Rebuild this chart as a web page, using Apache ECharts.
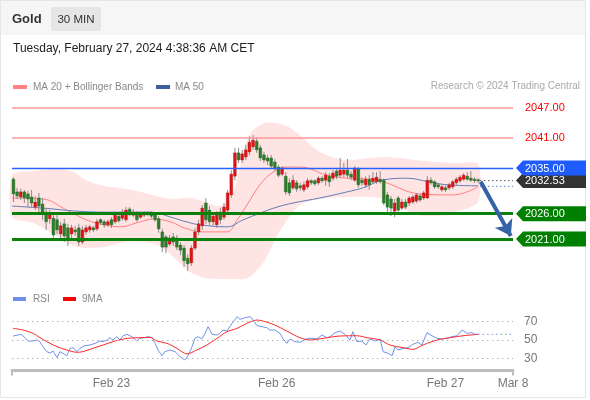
<!DOCTYPE html>
<html><head><meta charset="utf-8">
<script src="https://cdn.jsdelivr.net/npm/echarts@6/dist/echarts.min.js"></script>
<style>html,body{margin:0;padding:0;background:#fff}#c{width:590px;height:400px}</style>
</head><body><div id="c"></div>
<script>
// ---- 30-min candles (index 0 = Feb 22 10:30 CET) ----
const candleOpen = [2032.8,2030.3,2029.3,2030.3,2029.9,2029.3,2027.3,2029.1,2027.9,2026.3,
2025.0,2025.1,2024.8,2022.0,2024.0,2023.2,2022.0,2022.8,2023.2,2020.4,
2022.4,2022.8,2023.2,2023.0,2024.8,2024.4,2023.8,2024.8,2024.4,2025.5,
2025.1,2024.8,2026.9,2025.7,2026.1,2025.3,2025.7,2026.1,2026.1,2025.9,
2025.0,2022.4,2021.4,2020.0,2021.4,2021.2,2019.8,2019.2,2017.2,2016.3,
2019.2,2022.4,2023.6,2028.1,2026.7,2024.4,2023.8,2026.3,2025.3,2026.7,
2029.7,2033.4,2038.0,2036.6,2037.2,2038.2,2039.2,2040.3,2039.0,2037.6,
2037.0,2037.0,2036.2,2035.2,2033.8,2033.4,2032.1,2031.1,2032.1,2031.5,
2030.7,2031.3,2032.5,2032.5,2032.1,2033.0,2032.6,2033.4,2033.0,2034.4,
2033.6,2033.8,2034.6,2033.8,2032.6,2034.8,2032.6,2031.7,2032.8,2032.3,
2032.3,2032.8,2032.6,2029.7,2028.9,2026.5,2029.1,2027.1,2028.3,2028.1,
2028.3,2028.5,2029.5,2029.1,2029.1,2032.6,2032.3,2031.7,2030.7,2031.1,
2031.1,2031.3,2032.1,2032.5,2032.8,2033.4,2033.0,2032.8,2032.7];
const candleClose = [2029.9,2029.5,2030.3,2029.1,2028.9,2028.1,2028.3,2027.5,2026.3,2024.4,
2025.9,2021.8,2022.8,2023.6,2021.6,2020.8,2023.2,2022.4,2020.4,2022.8,
2023.2,2023.4,2022.8,2024.4,2024.2,2023.8,2024.4,2023.8,2025.7,2024.6,
2026.3,2026.7,2025.9,2026.3,2024.8,2025.9,2026.1,2025.9,2025.5,2024.8,
2023.0,2019.4,2019.4,2021.2,2020.4,2019.4,2018.8,2016.7,2016.1,2019.2,
2022.4,2024.0,2027.1,2024.8,2024.4,2025.5,2025.7,2024.8,2027.3,2030.1,
2033.8,2038.0,2036.6,2037.8,2038.6,2040.1,2040.5,2038.6,2037.0,2036.6,
2036.4,2035.4,2035.0,2033.6,2035.0,2030.3,2030.1,2032.6,2030.9,2031.1,
2031.7,2032.5,2032.1,2031.9,2033.0,2032.5,2033.6,2032.3,2034.0,2033.4,
2034.6,2034.6,2033.6,2033.2,2035.0,2031.7,2032.1,2032.8,2031.7,2033.0,
2033.2,2032.3,2028.1,2027.3,2027.1,2028.1,2026.7,2028.3,2027.3,2029.1,
2029.3,2029.7,2028.7,2030.1,2032.6,2032.1,2031.3,2031.3,2031.3,2030.7,
2031.7,2032.3,2032.8,2033.2,2033.6,2032.8,2032.6,2032.5,2032.53];
const candleHigh = [2033.2,2031.1,2030.9,2030.7,2030.5,2030.7,2029.5,2030.1,2029.1,2027.1,
2026.7,2025.9,2025.7,2024.4,2025.0,2024.0,2023.8,2023.6,2024.0,2023.6,
2023.8,2023.8,2023.6,2025.0,2025.1,2024.8,2024.8,2025.3,2026.1,2026.1,
2026.9,2027.3,2027.3,2026.9,2026.5,2026.3,2026.5,2026.5,2026.5,2026.3,
2025.5,2023.0,2021.8,2021.8,2022.2,2021.8,2020.4,2019.8,2018.0,2019.8,
2023.2,2024.8,2027.7,2029.1,2027.5,2026.3,2026.5,2027.1,2028.1,2030.7,
2034.6,2039.0,2039.0,2038.6,2039.6,2041.3,2041.5,2041.1,2039.6,2038.2,
2037.6,2037.6,2036.8,2035.6,2035.4,2034.2,2033.0,2033.6,2032.6,2032.1,
2032.3,2033.0,2032.8,2032.8,2033.4,2033.4,2034.2,2034.0,2034.6,2035.0,
2037.0,2036.0,2036.8,2034.4,2035.4,2035.2,2033.2,2033.4,2033.6,2034.2,
2034.2,2034.4,2033.0,2030.3,2029.5,2028.9,2029.5,2028.9,2028.9,2029.5,
2029.7,2030.1,2029.9,2030.5,2033.4,2033.2,2032.6,2032.1,2031.7,2031.5,
2032.1,2032.6,2033.2,2033.6,2034.0,2034.2,2034.4,2033.2,2033.0];
const candleLow = [2028.3,2028.9,2028.7,2028.1,2027.3,2027.1,2026.7,2026.3,2024.8,2022.8,
2024.0,2021.2,2022.0,2020.8,2020.4,2019.6,2021.2,2021.6,2019.6,2020.0,
2021.8,2022.2,2022.4,2022.6,2023.8,2023.2,2023.4,2023.2,2024.0,2024.2,
2024.6,2024.4,2025.5,2025.3,2024.4,2025.0,2025.3,2025.5,2025.1,2024.4,
2022.2,2018.4,2018.2,2019.6,2019.6,2018.8,2017.8,2015.5,2014.7,2015.7,
2018.8,2021.8,2022.8,2024.0,2023.8,2023.6,2023.2,2024.0,2024.8,2026.1,
2029.1,2032.6,2036.0,2036.0,2036.6,2037.6,2038.6,2038.0,2036.4,2036.0,
2035.6,2035.0,2034.4,2033.2,2033.4,2029.7,2029.5,2030.7,2030.3,2030.5,
2030.3,2030.9,2031.7,2031.5,2031.7,2032.1,2031.5,2031.3,2032.5,2032.8,
2033.2,2033.2,2033.0,2032.6,2032.3,2031.1,2031.5,2031.1,2030.7,2031.9,
2031.9,2031.9,2027.7,2026.3,2025.5,2025.3,2026.3,2026.7,2026.9,2027.5,
2027.9,2028.1,2028.3,2028.7,2028.9,2031.7,2030.9,2030.9,2030.3,2030.3,
2030.7,2030.9,2031.7,2032.1,2032.5,2032.5,2032.3,2032.1,2032.1];

// ---- moving averages and Bollinger bands (read at candle index positions) ----
const ma20Idx = [-0.4,8.1,14.7,20.2,24.9,29.6,34.0,38.7,43.4,47.0,52.2,58.8,61.6,64.3,67.9,71.5,75.3,78.9,86.4,91.9,101.0,102.9,111.9,121.1,128.0];
const ma20 = [2029.1,2028.9,2026.7,2024.75,2023.8,2023.4,2024.2,2024.95,2024.35,2023.2,2022.4,2022.4,2024.75,2027.7,2031.7,2034.2,2035.2,2035.2,2033.6,2033.0,2032.65,2032.05,2029.9,2029.7,2031.3];
const ma50Idx = [-0.4,8.1,17.5,25.5,37.9,43.4,47.8,51.4,58.8,63.2,67.9,72.6,77.0,84.4,91.9,96.3,101.8,108.4,114.7,119.4,128.0];
const ma50 = [2027.5,2027.1,2026.5,2026.3,2026.3,2025.3,2024.35,2023.8,2023.4,2024.75,2026.1,2027.3,2028.1,2029.1,2030.3,2031.1,2032.65,2033.0,2032.25,2031.7,2031.5];
const bandIdx = [-0.4,5.4,11.4,16.1,19.7,24.9,30.7,36.2,40.4,44.5,48.6,52.8,56.5,59.5,61.5,63.5,65.7,69.3,72.0,75.3,78.9,84.4,91.3,98.2,102.3,106.5,110.6,116.1,121.6,128];
const bandUpper = [2033.6,2034.4,2034.8,2034.4,2032.7,2031.5,2030.9,2030.1,2029.3,2028.9,2029.2,2028.3,2027.5,2028.5,2032.5,2038.5,2042.3,2043.9,2043.9,2043.3,2041.5,2038.2,2036.6,2037.0,2037.2,2037.0,2036.6,2036.2,2036.0,2035.8];
const bandLower = [2025.3,2024.2,2021.8,2019.8,2019.2,2019.4,2020.4,2020.4,2019.6,2017.2,2014.5,2013.3,2013.1,2013.1,2013.1,2013.1,2013.8,2016.8,2020.8,2024.7,2027.7,2028.9,2029.3,2029.3,2028.9,2027.3,2025.9,2025.5,2026.3,2028.3];

// ---- RSI panel ----
const rsiIdx = [-0.1,2.1,3.2,4.0,5.4,6.5,7.3,8.1,9.2,10.1,10.9,12.0,12.8,13.6,14.7,15.6,16.4,17.5,18.3,19.7,21.1,22.5,23.8,24.7,25.8,26.6,27.4,28.5,29.3,30.2,31.3,32.6,34.0,34.8,36.2,37.1,38.2,39.0,39.8,40.9,41.7,43.1,44.5,45.9,47.2,48.1,49.2,50.0,50.8,51.9,52.8,53.6,54.7,56.1,56.9,57.7,58.8,60.2,61.6,62.4,63.8,65.2,66.0,67.1,68.5,69.8,70.7,72.0,73.4,74.2,75.3,76.2,77.5,78.9,81.1,82.5,83.6,85.0,86.4,87.2,88.6,90.0,91.3,92.7,93.5,94.6,96.0,97.1,98.2,99.6,101.0,101.8,103.2,104.3,105.1,105.9,107.3,108.7,110.0,111.4,112.5,113.9,115.3,116.7,118.0,119.4,120.8,122.2,123.6,124.9,126.3,127.1,128.0];
const rsi = [54.3,56.1,52.5,48.9,48.9,50,48.2,42.8,37.4,35.9,38.1,30.9,37.4,35.6,33,41,41.7,37.4,41,43.9,44.6,46.4,48.9,48.2,50,52.5,50,53.6,50,54.6,56.1,53.6,48.9,51.8,52.5,53.6,52.5,46.4,39.2,33,37.4,39.2,37.4,32,28.4,33,42.8,51.8,53.6,51.1,57.2,64.4,56.1,55.4,57.2,60.8,59.7,68,75.2,72.3,74.1,75.2,71.6,65.5,64.4,63.3,60.8,60.8,57.2,51.8,46.4,51.1,48.2,47.5,51.8,51.8,51.1,55.4,52.5,53.6,57.9,59.7,56.1,50,59,48.2,48.9,44.6,51.1,48.9,51.1,37.4,35.6,33,42.8,39.2,41,41.7,45.3,47.5,44.6,57.9,54.6,51.8,51.1,51.8,53.6,54.6,60.8,57.2,57.9,56.1,56.1];
const rsiMaIdx = [-0.1,2.6,5.4,7.3,9.2,12.0,14.7,17.5,19.1,21.9,24.7,27.4,31.3,34.8,37.6,39.5,42.3,45.0,47.8,50.5,53.3,56.1,58.8,61.6,64.3,67.1,68.7,71.5,74.2,77.0,78.9,81.7,85.3,90.0,94.6,97.4,101.0,103.7,107.3,110.0,112.8,116.7,120.3,123.8,128.0];
const rsiMa = [62.6,60.8,57.2,52.5,48.2,42.8,39.2,36.7,37.4,41,44.6,48.2,51.8,52.5,52.9,48.9,46.4,41,34.9,39.2,44.6,51.8,59,62.6,68,71.6,70.5,67,61.9,56.1,52.5,50,51.8,54.3,54.6,52.5,50,44.6,41.7,39.9,44.6,50,52.5,54.6,56.1];
const rsiLevels = [30, 50, 70];

// ---- levels, labels ----
const levels = [2047, 2041, 2035, 2026, 2021];
const lastPrice = 2032.53;
const lastMa50 = 2031.4;
const lastRsi = 56.1;
const lastIdx = 128.5;
const arrowFrom = [128.7, 2032.3];
const arrowTo = [137.0, 2021.6];
const dateLabels = ['Feb 23', 'Feb 26', 'Feb 27', 'Mar 8'];
const dateLabelIdx = [27, 72.5, 119, 137.6];

const X_MIN = -0.4, X_MAX = 137.6;
const FONT = '"Liberation Sans", Arial, sans-serif';

const chart = echarts.init(document.getElementById('c'), null, {renderer: 'canvas', width: 590, height: 400});
const pairs = (xs, ys) => xs.map((x, k) => [x, ys[k]]);
const candles = candleOpen.map((o, i) => [i, o, candleClose[i], candleLow[i], candleHigh[i]]);

const levelStyle = {
  2047: {color: '#ff9a9a', width: 1.5},
  2041: {color: '#ff9a9a', width: 1.5},
  2035: {color: '#2a62ff', width: 1.4},
  2026: {color: '#0b800b', width: 3},
  2021: {color: '#0b800b', width: 3}
};
const tagValues = [levels[0], levels[1], lastPrice, levels[2], levels[3], levels[4]];
const tagStyle = [
  {fg: '#ff0000', bg: null},
  {fg: '#ff0000', bg: null},
  {fg: '#ffffff', bg: '#333333'},
  {fg: '#ffffff', bg: '#1f5cff'},
  {fg: '#ffffff', bg: '#008000'},
  {fg: '#ffffff', bg: '#008000'}
];

const option = {
  animation: false,
  backgroundColor: '#ffffff',
  grid: [
    {left: 12, top: 94.64, width: 501, height: 189.94, outerBoundsMode: 'none'},
    {left: 12, top: 312.25, width: 501, height: 58.275, outerBoundsMode: 'none'}
  ],
  xAxis: [
    {type: 'value', gridIndex: 0, min: X_MIN, max: X_MAX, show: false},
    {type: 'value', gridIndex: 1, min: X_MIN, max: X_MAX,
      axisLine: {show: true, onZero: false, lineStyle: {color: '#bdbdbd', width: 3}},
      axisTick: {show: true, customValues: [X_MIN, X_MAX], length: 5, lineStyle: {color: '#bdbdbd', width: 2}},
      axisLabel: {show: true, customValues: dateLabelIdx, margin: 7, color: '#777', fontSize: 12, fontFamily: FONT,
        formatter: function (v) {
          let best = 0;
          dateLabelIdx.forEach((d, k) => { if (Math.abs(d - v) < Math.abs(dateLabelIdx[best] - v)) best = k; });
          return dateLabels[best];
        }},
      splitLine: {show: false}}
  ],
  yAxis: [
    {type: 'value', gridIndex: 0, min: 2012, max: 2049.5, show: false},
    {type: 'value', gridIndex: 1, min: 17, max: 80, show: false}
  ],
  series: [
    {type: 'custom', xAxisIndex: 0, yAxisIndex: 0, z: 1, silent: true,
      data: [[bandIdx[0], bandUpper[0]]],
      renderItem: function (params, api) {
        const pts = [];
        bandIdx.forEach((x, k) => pts.push(api.coord([x, bandUpper[k]])));
        for (let k = bandIdx.length - 1; k >= 0; k--) pts.push(api.coord([bandIdx[k], bandLower[k]]));
        return {type: 'polygon', shape: {points: pts, smooth: 0.25}, style: {fill: 'rgba(255,120,120,0.2)'}};
      }},
    {type: 'line', xAxisIndex: 0, yAxisIndex: 0, z: 2, data: pairs(ma20Idx, ma20), smooth: 0.4,
      showSymbol: false, symbol: 'none', lineStyle: {color: '#ff8080', width: 1}},
    {type: 'line', xAxisIndex: 0, yAxisIndex: 0, z: 2, data: pairs(ma50Idx, ma50), smooth: 0.4,
      showSymbol: false, symbol: 'none', lineStyle: {color: '#5f7db8', width: 1}},
    {type: 'custom', xAxisIndex: 0, yAxisIndex: 0, z: 3, data: candles,
      encode: {x: 0, y: [1, 2, 3, 4]},
      renderItem: function (params, api) {
        const i = api.value(0), o = api.value(1), c = api.value(2), l = api.value(3), h = api.value(4);
        const pO = api.coord([i, o]), pC = api.coord([i, c]), pL = api.coord([i, l]), pH = api.coord([i, h]);
        const x = pO[0];
        const up = c >= o;
        const top = Math.min(pO[1], pC[1]);
        let hh = Math.abs(pO[1] - pC[1]);
        if (hh < 1.2) hh = 1.2;
        return {type: 'group', children: [
          {type: 'line', shape: {x1: x, y1: pH[1], x2: x, y2: pL[1]}, style: {stroke: '#8c8c8c', lineWidth: 1}},
          {type: 'rect', shape: {x: x - 1.4, y: top, width: 2.8, height: hh},
            style: {fill: up ? '#e01414' : '#2b7f2b', stroke: up ? '#b01010' : '#206020', lineWidth: 0.4}}
        ]};
      }},
    {type: 'line', xAxisIndex: 0, yAxisIndex: 0, z: 4, data: [], silent: true,
      markLine: {silent: true, symbol: 'none', label: {show: false}, animation: false,
        data: levels.map(v => ({yAxis: v, lineStyle: {color: levelStyle[v].color, width: levelStyle[v].width, type: 'solid', opacity: 1}}))}},
    {type: 'line', xAxisIndex: 0, yAxisIndex: 0, z: 4, data: [[lastIdx, lastPrice], [X_MAX, lastPrice]],
      symbol: 'none', lineStyle: {color: '#555', width: 1, type: [1.5, 2.5]}},
    {type: 'line', xAxisIndex: 0, yAxisIndex: 0, z: 4, data: [[lastIdx, lastMa50], [X_MAX, lastMa50]],
      symbol: 'none', lineStyle: {color: '#5f7db8', width: 1, type: [1.5, 2.5]}},
    {type: 'line', xAxisIndex: 0, yAxisIndex: 0, z: 5, data: [], silent: true,
      markLine: {silent: true, symbol: ['none', 'arrow'], symbolSize: 15, label: {show: false},
        lineStyle: {color: '#3362a6', width: 4, type: 'solid', opacity: 1},
        data: [[{coord: arrowFrom}, {coord: arrowTo}]]}},
    {type: 'custom', xAxisIndex: 0, yAxisIndex: 0, z: 6, silent: true,
      data: tagValues.map(v => [X_MAX, v]),
      encode: {x: 0, y: 1},
      renderItem: function (params, api) {
        const k = params.dataIndex;
        const v = api.value(1);
        const p = api.coord([api.value(0), v]);
        const tip = p[0] + 3, y = p[1];
        const st = tagStyle[k];
        const ch = [];
        if (st.bg) {
          ch.push({type: 'polygon', shape: {points: [[tip, y], [tip + 7, y - 7.5], [tip + 70, y - 7.5], [tip + 70, y + 7.5], [tip + 7, y + 7.5]]},
            style: {fill: st.bg}});
        }
        ch.push({type: 'text', style: {text: v.toFixed(2), x: tip + 9, y: y + 0.5, verticalAlign: 'middle', align: 'left',
          fill: st.fg, font: '11px ' + FONT}});
        return {type: 'group', children: ch};
      }},
    {type: 'line', xAxisIndex: 1, yAxisIndex: 1, z: 3, data: pairs(rsiIdx, rsi), symbol: 'none',
      lineStyle: {color: '#7092ea', width: 1},
      markLine: {silent: true, symbol: 'none',
        lineStyle: {color: '#b5b5b5', width: 1, type: [1.5, 3.5]},
        label: {show: true, position: 'end', distance: 11, formatter: '{c}', color: '#777', fontSize: 12, fontFamily: FONT},
        data: rsiLevels.map(v => ({yAxis: v}))}},
    {type: 'line', xAxisIndex: 1, yAxisIndex: 1, z: 3, data: [[128, lastRsi], [X_MAX, lastRsi]], symbol: 'none',
      lineStyle: {color: '#7092ea', width: 1, type: [1.5, 3]}},
    {type: 'line', xAxisIndex: 1, yAxisIndex: 1, z: 4, data: pairs(rsiMaIdx, rsiMa), symbol: 'none', smooth: 0.3,
      lineStyle: {color: '#ff2a2a', width: 1}}
  ],
  graphic: [
    {type: 'rect', silent: true, z: -10, shape: {x: 0.5, y: 0.5, width: 585, height: 397}, style: {fill: '#ffffff', stroke: '#e6e6e6', lineWidth: 1}},
    {type: 'rect', silent: true, z: -9, shape: {x: 1, y: 1, width: 584, height: 34}, style: {fill: '#f6f6f6'}},
    {type: 'text', silent: true, x: 12, y: 19, style: {text: 'Gold', font: 'bold 13px ' + FONT, fill: '#333', verticalAlign: 'middle'}},
    {type: 'rect', silent: true, shape: {x: 51, y: 7, width: 50, height: 24, r: 2}, style: {fill: '#e6e6e6'}},
    {type: 'text', silent: true, x: 76, y: 19.5, style: {text: '30 MIN', font: '11.5px ' + FONT, fill: '#333', align: 'center', verticalAlign: 'middle'}},
    {type: 'text', silent: true, x: 13, y: 48.5, style: {text: 'Tuesday, February 27, 2024 4:38:36 AM CET', font: '12px ' + FONT, fill: '#222', verticalAlign: 'middle'}},
    {type: 'rect', silent: true, shape: {x: 13, y: 85, width: 14, height: 4}, style: {fill: '#ff8080'}},
    {type: 'text', silent: true, x: 33, y: 87, style: {text: 'MA 20 + Bollinger Bands', font: '10px ' + FONT, fill: '#888', verticalAlign: 'middle'}},
    {type: 'rect', silent: true, shape: {x: 156, y: 85, width: 14, height: 4}, style: {fill: '#3d5f9f'}},
    {type: 'text', silent: true, x: 175, y: 87, style: {text: 'MA 50', font: '10px ' + FONT, fill: '#888', verticalAlign: 'middle'}},
    {type: 'text', silent: true, x: 580, y: 86.5, style: {text: 'Research \u00a9 2024 Trading Central', font: '10px ' + FONT, fill: '#aaa', align: 'right', verticalAlign: 'middle'}},
    {type: 'rect', silent: true, shape: {x: 13, y: 297, width: 13, height: 4}, style: {fill: '#6f8fe8'}},
    {type: 'text', silent: true, x: 33, y: 299, style: {text: 'RSI', font: '10px ' + FONT, fill: '#888', verticalAlign: 'middle'}},
    {type: 'rect', silent: true, shape: {x: 63, y: 297, width: 13, height: 4}, style: {fill: '#ff0000'}},
    {type: 'text', silent: true, x: 82, y: 299, style: {text: '9MA', font: '10px ' + FONT, fill: '#888', verticalAlign: 'middle'}}
  ]
};
chart.setOption(option);
</script>
</body></html>
